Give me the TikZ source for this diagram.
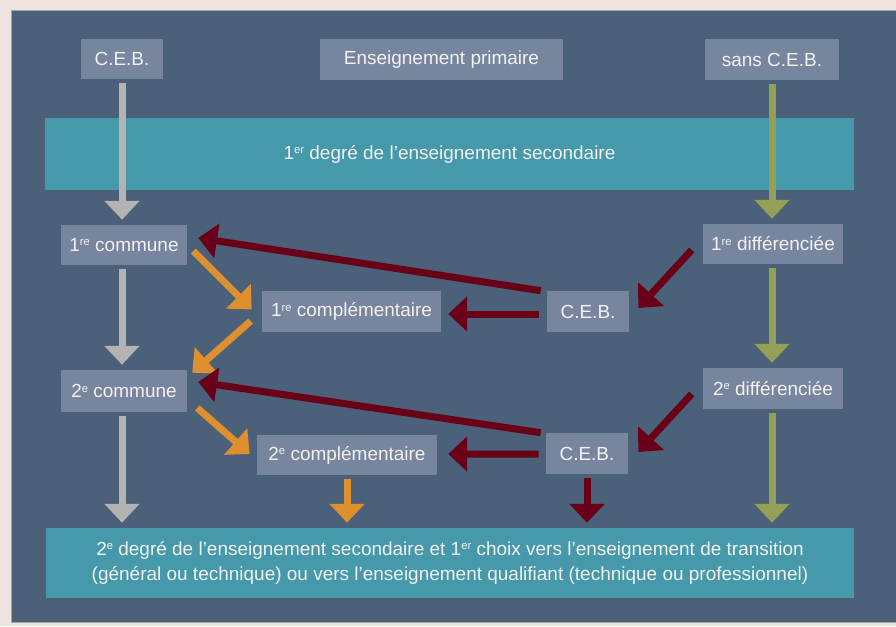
\documentclass[tikz,border=0pt]{standalone}
\usepackage{fontspec}
\setmainfont{Liberation Sans}
\usetikzlibrary{arrows.meta}
\definecolor{outerpink}{RGB}{238,227,223}
\definecolor{panelblue}{RGB}{75,96,121}
\definecolor{boxgrey}{RGB}{119,133,158}
\definecolor{bandteal}{RGB}{69,153,171}
\definecolor{boxtext}{RGB}{242,242,242}
\definecolor{flowgrey}{RGB}{179,179,179}
\definecolor{flowolive}{RGB}{149,160,87}
\definecolor{floworange}{RGB}{222,143,46}
\definecolor{flowred}{RGB}{105,0,23}
\newcommand{\ordsup}[1]{\raisebox{0.55ex}{\fontsize{8}{8}\selectfont #1}}
\begin{document}
\begin{tikzpicture}[x=0.025cm,y=-0.025cm,font=\fontsize{13.5}{17.8}\selectfont,
  box/.style={fill=boxgrey,text=boxtext,inner sep=0pt,minimum height=1cm},
  band/.style={fill=bandteal,text=boxtext,inner sep=0pt,align=center},
  flow/.style={line width=0.175cm,-{Triangle[width=0.85cm,length=0.47cm]}},
  down/.style={flow,shorten <=0.1cm,shorten >=0.125cm}]
\useasboundingbox[fill=outerpink] (0,0) rectangle (896,626);
\path[fill=panelblue,draw=gray!70,line width=0.4pt] (11,10) rectangle (897,622);
\node[box,minimum width=2.05cm] (ceb-top) at (122,59) {C.E.B.};
\node[box,minimum width=6.075cm] (primaire) at (441.5,59.5) {Enseignement primaire};
\node[box,minimum width=3.35cm] (sans-ceb) at (772,59.5) {sans C.E.B.};
\node[band,minimum width=20.225cm,minimum height=1.8cm] (degre-1) at (449.5,154) {1\ordsup{er} degré de l’enseignement secondaire};
\node[box,minimum width=3.15cm] (commune-1) at (124,245) {1\ordsup{re} commune};
\node[box,minimum width=3.5cm] (diff-1) at (773,244) {1\ordsup{re} différenciée};
\node[box,minimum width=4.475cm,minimum height=1.025cm] (compl-1) at (351.5,311.5) {1\ordsup{re} complémentaire};
\node[box,minimum width=2.05cm,minimum height=1.025cm] (ceb-1) at (588,311.5) {C.E.B.};
\node[box,minimum width=3.15cm,minimum height=1.05cm] (commune-2) at (124,391) {2\ordsup{e} commune};
\node[box,minimum width=3.5cm,minimum height=1.025cm] (diff-2) at (773,388.5) {2\ordsup{e} différenciée};
\node[box,minimum width=4.5cm] (compl-2) at (347,455) {2\ordsup{e} complémentaire};
\node[box,minimum width=2.05cm,minimum height=1.025cm] (ceb-2) at (587,453.5) {C.E.B.};
\node[band,minimum width=20.2cm,minimum height=1.75cm] (degre-2) at (450,563) {2\ordsup{e} degré de l’enseignement secondaire et 1\ordsup{er} choix vers l’enseignement de transition\\(général ou technique) ou vers l’enseignement qualifiant (technique ou professionnel)};
\draw[down,flowgrey] (ceb-top.south) -- (ceb-top.south |- commune-1.north);
\draw[down,flowgrey] (commune-1.south -| ceb-top) -- (ceb-top |- commune-2.north);
\draw[down,flowgrey] (commune-2.south -| ceb-top) -- (ceb-top |- degre-2.north);
\draw[down,flowolive] (sans-ceb.south) -- (sans-ceb.south |- diff-1.north);
\draw[down,flowolive] (diff-1.south -| sans-ceb) -- (sans-ceb |- diff-2.north);
\draw[down,flowolive] (diff-2.south -| sans-ceb) -- (sans-ceb |- degre-2.north);
\draw[flow,floworange] ([shift={(6,6)}]commune-1.east) -- ([shift={(-10,-2)}]compl-1.west);
\draw[flow,floworange] ([shift={(-11,9.5)}]compl-1.west) -- ([shift={(5,3)}]commune-2.north east);
\draw[flow,floworange] ([shift={(10,17)}]commune-2.east) -- ([shift={(-7,-1)}]compl-2.west);
\draw[down,floworange] (compl-2.south) -- (compl-2.south |- degre-2.north);
\draw[flow,flowred] ([shift={(-11,6)}]diff-1.west) -- ([shift={(9,-3.5)}]ceb-1.east);
\draw[flow,flowred] ([shift={(-8,2.5)}]ceb-1.west) -- ([shift={(7,2.5)}]compl-1.east);
\draw[flow,flowred] ([shift={(-6,0)}]ceb-1.north west) -- ([shift={(11,-7)}]commune-1.east);
\draw[flow,flowred] ([shift={(-11,5.5)}]diff-2.west) -- ([shift={(10,-1.5)}]ceb-2.east);
\draw[flow,flowred] ([shift={(-7,0.5)}]ceb-2.west) -- ([shift={(11,-1)}]compl-2.east);
\draw[flow,flowred] ([shift={(-5,0)}]ceb-2.north west) -- ([shift={(11,-9)}]commune-2.east);
\draw[down,flowred] (ceb-2.south) -- (ceb-2.south |- degre-2.north);
\end{tikzpicture}
\end{document}
